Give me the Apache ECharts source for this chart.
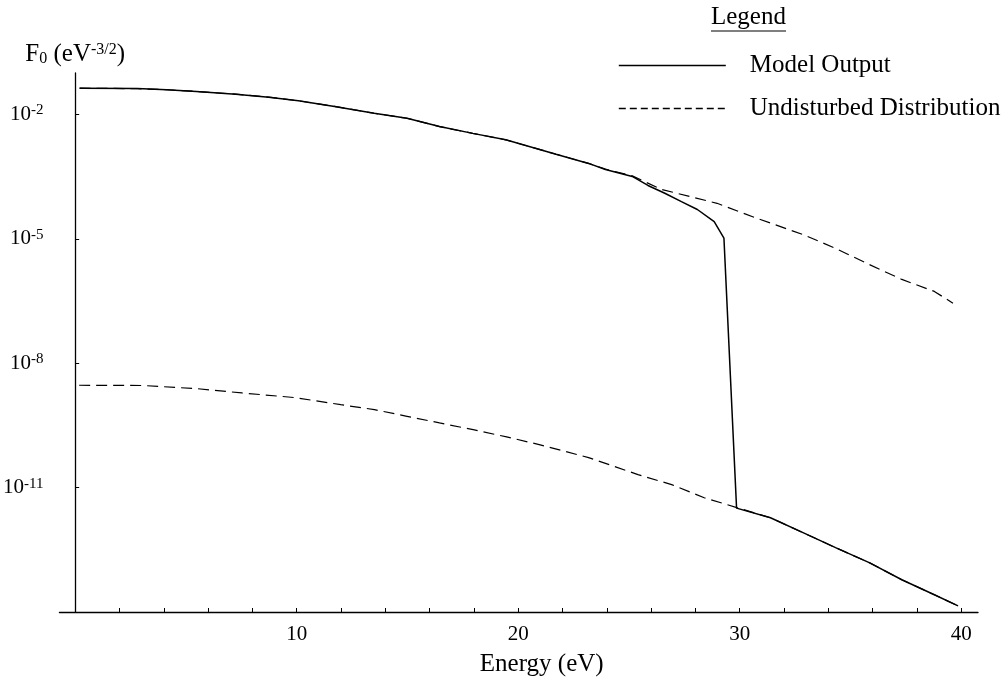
<!DOCTYPE html>
<html lang="en">
<head>
    <meta charset="UTF-8">
    <title>F0 distribution</title>
    <script type="text/javascript" src="https://cdn.jsdelivr.net/npm/echarts@6/dist/echarts.min.js"></script>
    <style>
        html, body { margin: 0; padding: 0; background: #fff; }
        #main { width: 1002px; height: 696px; }
    </style>
</head>
<body>
<div id="main"></div>
<script type="text/javascript">
    // energy (eV) / F0 values
    var modelE = [0.2, 2.8, 4.13, 5.47, 7.25, 8.74, 10.08, 11.71, 13.5, 14.98, 16.45, 17.95, 19.44,
        21.71, 23.18, 23.94, 25.15, 25.86, 26.62, 27.37, 28.09, 28.85, 29.29, 29.86,
        31.39, 32.86, 34.33, 35.85, 37.32, 38.79, 39.86];
    var modelF = [4.3e-2, 4.2e-2, 3.94e-2, 3.6e-2, 3.09e-2, 2.61e-2, 2.14e-2, 1.56e-2, 1.07e-2, 8.1e-3, 5.1e-3, 3.5e-3, 2.45e-3,
        1.1e-3, 6.6e-4, 4.7e-4, 3.2e-4, 1.94e-4, 1.26e-4, 7.9e-5, 5.1e-5, 2.6e-5, 1.04e-5, 3.2e-12,
        1.88e-12, 8.2e-13, 3.56e-13, 1.55e-13, 6.0e-14, 2.6e-14, 1.4e-14];

    var undistHighE = [0.2, 2.8, 4.13, 5.47, 7.25, 8.74, 10.08, 11.71, 13.5, 14.98, 16.45, 17.95, 19.44,
        21.71, 23.18, 23.94, 25.15, 26.48, 28.98, 30.76, 32.86, 34.33, 35.85, 37.32, 38.79, 39.63];
    var undistHighF = [4.3e-2, 4.2e-2, 3.94e-2, 3.6e-2, 3.09e-2, 2.61e-2, 2.14e-2, 1.56e-2, 1.07e-2, 8.1e-3, 5.1e-3, 3.5e-3, 2.45e-3,
        1.1e-3, 6.6e-4, 4.8e-4, 3.3e-4, 1.55e-4, 7.2e-5, 3.15e-5, 1.27e-5, 5.9e-6, 2.4e-6, 1.05e-6, 5.4e-7, 2.8e-7];

    var undistLowE = [0.18, 3.08, 5.48, 7.53, 9.94, 11.99, 13.51, 14.98, 16.45, 17.97, 19.48, 20.95, 23.18,
        25.41, 26.93, 28.4, 29.87, 31.39, 32.86, 34.33, 35.85, 37.32, 38.79, 39.86];
    var undistLowF = [2.94e-9, 2.9e-9, 2.44e-9, 1.92e-9, 1.48e-9, 1.0e-9, 7.6e-10, 5.25e-10, 3.63e-10, 2.5e-10, 1.67e-10, 1.09e-10, 5.3e-11,
        2.06e-11, 1.18e-11, 5.7e-12, 3.3e-12, 1.88e-12, 8.2e-13, 3.56e-13, 1.55e-13, 6.0e-14, 2.6e-14, 1.4e-14];

    var xTicks = [2, 4, 6, 8, 10, 12, 14, 16, 18, 20, 22, 24, 26, 28, 30, 32, 34, 36, 38, 40];
    var xLabels = [10, 20, 30, 40];
    var yLabelExp = [-2, -5, -8, -11];

    function pairs(xs, ys) {
        var out = [];
        for (var i = 0; i < xs.length; i++) {
            out.push([xs[i], ys[i]]);
        }
        return out;
    }

    var serif = 'Liberation Serif';
    var myChart = echarts.init(document.getElementById('main'));

    var lineBase = {
        type: 'line',
        symbol: 'none',
        color: '#000',
        silent: true
    };

    var option = {
        animation: false,
        backgroundColor: '#fff',
        title: {
            text: 'Legend',
            left: 711,
            top: 5,
            padding: 0,
            textStyle: { fontFamily: serif, fontSize: 25, fontWeight: 'normal', color: '#000' }
        },
        graphic: [{
            type: 'line',
            shape: { x1: 711, y1: 31, x2: 786, y2: 31 },
            style: { stroke: '#000', lineWidth: 1.2 }
        }],
        legend: {
            orient: 'vertical',
            left: 618,
            top: 53,
            padding: 0,
            itemWidth: 107,
            itemHeight: 14,
            itemGap: 18,
            selectedMode: false,
            itemStyle: { opacity: 0 },
            data: [
                { name: 'Model Output', lineStyle: { width: 1.6 } },
                { name: 'Undisturbed Distribution', lineStyle: { type: [7, 4], width: 1.4 } }
            ],
            textStyle: { fontFamily: serif, fontSize: 25, color: '#000', padding: [0, 0, 0, 19] }
        },
        grid: { left: 48, right: 24, top: 73, bottom: 84 },
        xAxis: {
            type: 'value',
            min: -0.71,
            max: 40.76,
            name: 'Energy (eV)',
            nameLocation: 'middle',
            nameGap: 40,
            nameTextStyle: { fontFamily: serif, fontSize: 25, color: '#000', padding: [0, 0, 0, 46] },
            splitLine: { show: false },
            axisLine: { onZero: false, lineStyle: { color: '#000', width: 1.3 } },
            axisTick: { inside: true, length: 4, customValues: xTicks, lineStyle: { color: '#000' } },
            axisLabel: {
                customValues: xLabels,
                margin: 12,
                fontFamily: serif, fontSize: 21, color: '#000'
            }
        },
        yAxis: {
            type: 'log',
            logBase: 10,
            min: 1e-14,
            max: 1e-1,
            interval: 3,
            name: '{f|F}{sub|0}{f| (eV}{sup|-3/2}{f|)}',
            nameLocation: 'end',
            nameGap: 6,
            nameTextStyle: {
                align: 'center',
                rich: {
                    f: { fontFamily: serif, fontSize: 25, color: '#000' },
                    sub: { fontFamily: serif, fontSize: 16, color: '#000', verticalAlign: 'bottom', padding: [6, 0, 0, 0] },
                    sup: { fontFamily: serif, fontSize: 16, color: '#000', verticalAlign: 'top', padding: [0, 0, 8, 0] }
                }
            },
            splitLine: { show: false },
            axisLine: { onZero: true, lineStyle: { color: '#000', width: 1.3 } },
            axisTick: { inside: true, length: 4, lineStyle: { color: '#000' } },
            axisLabel: {
                margin: 16,
                showMaxLabel: false,
                showMinLabel: false,
                formatter: function (v) {
                    var e = Math.round(Math.log10(v));
                    if (yLabelExp.indexOf(e) < 0) return '';
                    return '{b|10}{s|' + e + '}';
                },
                rich: {
                    b: { fontFamily: serif, fontSize: 21, color: '#000' },
                    s: { fontFamily: serif, fontSize: 15, color: '#000', verticalAlign: 'top', padding: [0, 0, 8, 0] }
                }
            }
        },
        series: [
            Object.assign({}, lineBase, {
                name: 'Model Output',
                data: pairs(modelE, modelF),
                lineStyle: { color: '#000', width: 1.5, type: 'solid' },
                z: 3
            }),
            Object.assign({}, lineBase, {
                name: 'Undisturbed Distribution',
                data: pairs(undistHighE, undistHighF),
                lineStyle: { color: '#000', width: 1.2, type: [11, 6] }
            }),
            Object.assign({}, lineBase, {
                name: 'Undisturbed Distribution',
                data: pairs(undistLowE, undistLowF),
                lineStyle: { color: '#000', width: 1.2, type: [11, 6] }
            })
        ]
    };
    myChart.setOption(option);
</script>
</body>
</html>
